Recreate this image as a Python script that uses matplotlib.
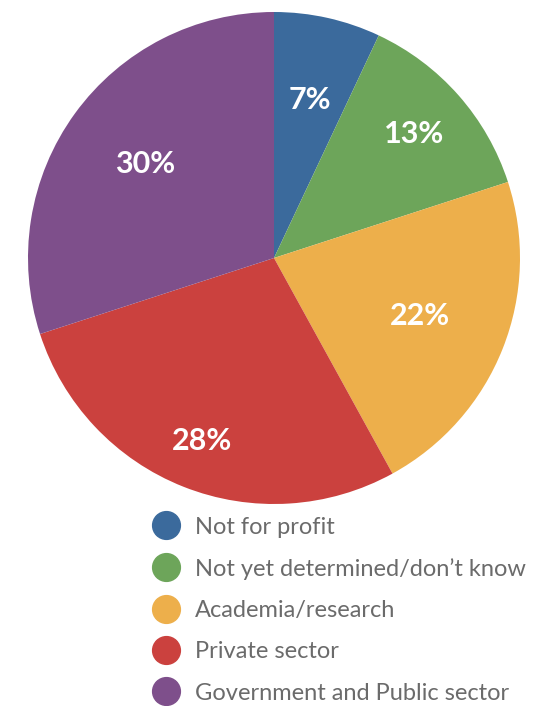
import numpy as np
import matplotlib.pyplot as plt
from matplotlib.lines import Line2D

categories = [
    "Not for profit",
    "Not yet determined/don\u2019t know",
    "Academia/research",
    "Private sector",
    "Government and Public sector",
]
shares = [7, 13, 22, 28, 30]

colors = ["#3B6A9C", "#6DA55A", "#EDAF4B", "#CB413E", "#7E4F8B"]
# how far out (fraction of radius) each percentage label sits
label_radius = [0.66, 0.76, 0.64, 0.80, 0.65]

plt.rcParams["font.family"] = ["Lato", "DejaVu Sans"]

fig = plt.figure(figsize=(5.37, 7.06), dpi=100)
cx, cy, r = 274, 258, 246
W, H = 537, 706
ax = fig.add_axes([(cx - r) / W, 1 - (cy + r) / H, 2 * r / W, 2 * r / H])

wedges, _ = ax.pie(
    shares,
    colors=colors,
    startangle=90,
    counterclock=False,
    radius=1.0,
)
ax.set_xlim(-1, 1)
ax.set_ylim(-1, 1)
ax.set_aspect("equal")

for w, val, lr in zip(wedges, shares, label_radius):
    ang = np.deg2rad((w.theta1 + w.theta2) / 2)
    ax.text(lr * np.cos(ang), lr * np.sin(ang), f"{val}%",
            ha="center", va="center", color="white",
            fontsize=22, fontweight="bold")

handles = [
    Line2D([], [], linestyle="none", marker="o", markersize=20,
           markerfacecolor=c, markeredgecolor=c)
    for c in colors
]
leg = fig.legend(
    handles, categories,
    loc="upper left",
    bbox_to_anchor=(138 / W, 1 - 500 / H),
    frameon=False,
    fontsize=17,
    labelspacing=0.86,
    handlelength=1.0,
    handletextpad=0.72,
    borderpad=0.2,
)
for t in leg.get_texts():
    t.set_color("#6b6b6b")

fig.savefig("out.png", dpi=100)
